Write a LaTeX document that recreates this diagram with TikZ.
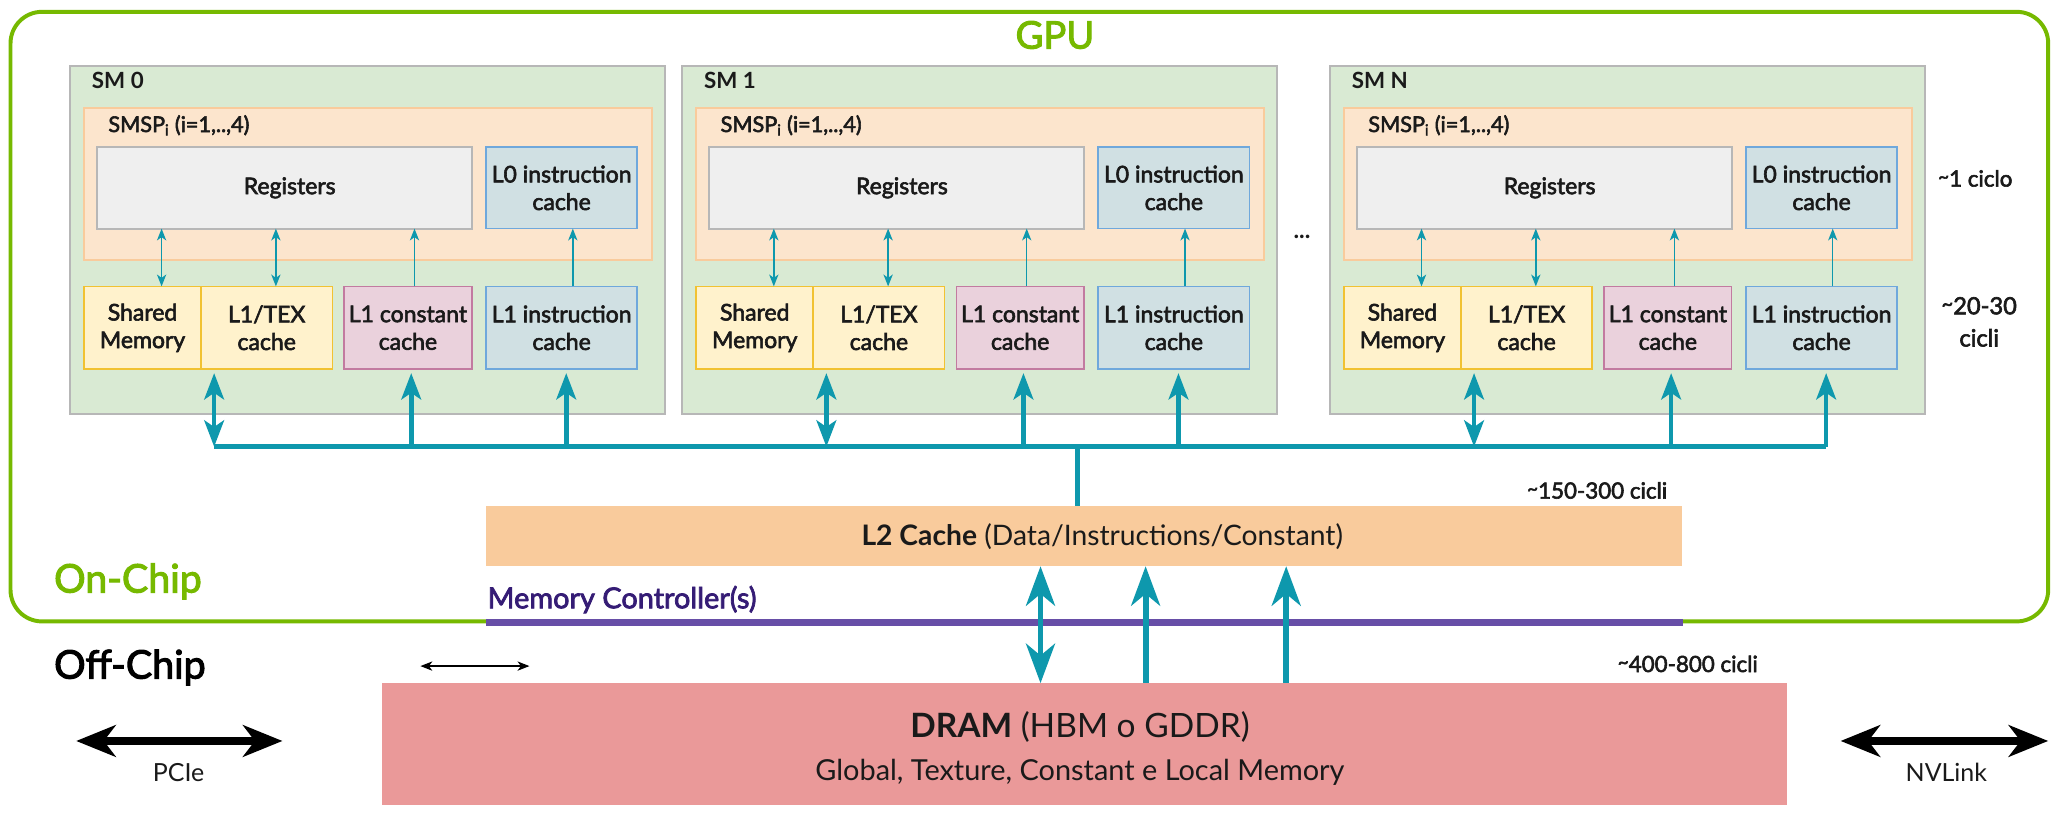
\documentclass[tikz,border=0pt]{standalone}
\usepackage{fontspec}
\setmainfont{Lato}
\newfontfamily\semib{Lato}[FakeBold=2.6]
\usetikzlibrary{arrows.meta}
\definecolor{gpugreen}{HTML}{76B900}
\definecolor{teal2}{HTML}{0E98AD}
\definecolor{mcpurple}{HTML}{674EA7}
\definecolor{mctext}{HTML}{351C75}
\definecolor{smfill}{HTML}{D9EAD3}
\definecolor{smdraw}{HTML}{B7B7B7}
\definecolor{smspfill}{HTML}{FCE5CD}
\definecolor{smspdraw}{HTML}{F9CB9C}
\definecolor{regfill}{HTML}{EFEFEF}
\definecolor{insfill}{HTML}{D0E0E3}
\definecolor{insdraw}{HTML}{6FA8DC}
\definecolor{shmfill}{HTML}{FFF2CC}
\definecolor{shmdraw}{HTML}{F1C232}
\definecolor{cstfill}{HTML}{EAD1DC}
\definecolor{cstdraw}{HTML}{C27BA0}
\definecolor{ltwofill}{HTML}{F9CB9C}
\definecolor{dramfill}{HTML}{EA9999}
\definecolor{txt}{HTML}{1A1A1A}
\newcommand\tld{\raisebox{.3ex}{\scalebox{.85}{\textasciitilde}}}
\newcommand\fsz[2]{\fontsize{#1}{#2}\selectfont}
\tikzset{
  tipS/.tip={Stealth[length=9pt,width=7pt,inset=2.5pt]},
  tipB/.tip={Stealth[length=20pt,width=15pt,inset=5pt]},
  tipL/.tip={Stealth[length=30pt,width=22pt,inset=9pt]},
  tipK/.tip={Stealth[length=30pt,width=24pt,inset=9pt]},
  box/.style={draw, line width=1.3pt, inner sep=0pt, outer sep=0pt, align=center, anchor=north west, text=txt, font=\semib\fsz{17.5}{21}},
  smbox/.style={box, fill=smfill, draw=smdraw, line width=1.6pt},
  smspbox/.style={box, fill=smspfill, draw=smspdraw, line width=1.6pt},
  regbox/.style={box, fill=regfill, draw=smdraw, line width=1.6pt},
  insbox/.style={box, fill=insfill, draw=insdraw},
  shmbox/.style={box, fill=shmfill, draw=shmdraw},
  cstbox/.style={box, fill=cstfill, draw=cstdraw},
  plainbox/.style={inner sep=0pt, outer sep=0pt, anchor=north west},
  lbl/.style={inner sep=0pt, outer sep=0pt, text=txt, font=\semib\fsz{16.5}{20}},
  tarr/.style={color=teal2, line width=1.1pt, -tipS},
  tarr2/.style={color=teal2, line width=1.1pt, tipS-tipS},
  barr/.style={color=teal2, line width=3.5pt, -tipB},
  barr2/.style={color=teal2, line width=3.5pt, tipB-tipB},
  bus/.style={color=teal2, line width=4pt},
  larr/.style={color=teal2, line width=4.5pt, -tipL},
  larr2/.style={color=teal2, line width=4.5pt, tipL-tipL},
  karr2/.style={color=black, line width=5.5pt, tipK-tipK},
  sarr2/.style={color=black, line width=1.2pt, tipS-tipS},
  mcline/.style={color=mcpurple, line width=5pt},
}
\begin{document}
\begin{tikzpicture}[x=1pt,y=-1pt]
\useasboundingbox (0,0) rectangle (1568,620);
\fill[white] (0,0) rectangle (1568,620);
% GPU container
\node[plainbox, draw=gpugreen, line width=3pt, rounded corners=24pt, minimum width=1551pt, minimum height=464pt] (gpu) at (8,9) {};
\node[anchor=base, text=gpugreen, inner sep=0pt, font=\semib\fsz{29}{32}] (gput) at (803,37) {GPU};
% bus end points
\coordinate (busL) at (163,340);
\coordinate (busR) at (1390,340);
% SMs
\foreach \x/\n/\lab in {53/0/SM 0,519/1/SM 1,1012/2/SM N}{
  \node[smbox, minimum width=453pt, minimum height=265pt] (sm\n) at (\x,50) {};
  \node[lbl, anchor=base west, font=\bfseries\fsz{17}{20}] (sm\n-t) at (\x+17,67.5) {\lab};
  \node[smspbox, minimum width=432pt, minimum height=116pt] (sm\n-smsp) at (\x+11,82) {};
  \node[lbl, anchor=base west] (sm\n-st) at (\x+29.5,100.5) {SMSP\textsubscript{i} (i=1,..,4)};
  \node[regbox, minimum width=285pt, minimum height=62pt] (sm\n-reg) at (\x+21,112) {\hspace{8pt}Registers};
  \node[insbox, minimum width=115pt, minimum height=62pt] (sm\n-l0) at (\x+317,112) {L0 instruction\\cache};
  \node[shmbox, minimum width=89pt, minimum height=63pt] (sm\n-shm) at (\x+11,218) {Shared\\Memory};
  \node[shmbox, minimum width=100pt, minimum height=63pt] (sm\n-tex) at (\x+100,218) {L1/TEX\\cache};
  \node[cstbox, minimum width=97pt, minimum height=63pt] (sm\n-cst) at (\x+209,218) {L1 constant\\cache};
  \node[insbox, minimum width=115pt, minimum height=63pt] (sm\n-l1i) at (\x+317,218) {L1 instruction\\cache};
  \draw[tarr2] ([xshift=14.5pt]sm\n-shm.north) -- ([xshift=14.5pt]sm\n-shm.north |- sm\n-reg.south);
  \draw[tarr2] ([xshift=7pt]sm\n-tex.north) -- ([xshift=7pt]sm\n-tex.north |- sm\n-reg.south);
  \draw[tarr] ([xshift=5pt]sm\n-cst.north) -- ([xshift=5pt]sm\n-cst.north |- sm\n-reg.south);
  \draw[tarr] ([xshift=8.5pt]sm\n-l1i.north) -- ([xshift=8.5pt]sm\n-l1i.north |- sm\n-l0.south);
  \draw[barr2] ([xshift=-40pt]sm\n-tex.south |- busL) -- ([xshift=-40pt,yshift=-3pt]sm\n-tex.south);
  \draw[barr] ([xshift=2.5pt]sm\n-cst.south |- busL) -- ([xshift=2.5pt,yshift=-3pt]sm\n-cst.south);
  \draw[barr] ([xshift=3.5pt]sm\n-l1i.south |- busL) -- ([xshift=3.5pt,yshift=-3pt]sm\n-l1i.south);
}
\node[anchor=base, inner sep=0pt, text=txt, font=\bfseries\fsz{18}{20}] (dots) at (991,181.5) {...};
% bus
\draw[bus] (busL) -- (busR);
% L2
\node[plainbox, fill=ltwofill, minimum width=910pt, minimum height=46pt] (l2) at (370,385) {};
\node[anchor=base, inner sep=0pt, text=txt, font=\fsz{21.5}{25}] (l2t) at (839,415.5) {\textbf{L2 Cache} (Data/Instructions/Constant)};
\draw[bus] ([xshift=-5pt]l2.north) -- ([xshift=-5pt]l2.north |- busL);
% memory controller
\coordinate (mcL) at (370,474);
\coordinate (mcR) at (1281,474);
\draw[mcline] (mcL) -- (mcR);
\node[anchor=base west, inner sep=0pt, text=mctext, font=\semib\fsz{22}{24}] (mct) at (371,463) {Memory Controller(s)};
% DRAM
\node[plainbox, fill=dramfill, minimum width=1069pt, minimum height=93pt] (dram) at (291,520) {};
\node[anchor=base, inner sep=0pt, text=txt, font=\fsz{25.5}{30}] (dramt) at (822,561) {\textbf{DRAM} (HBM o GDDR)};
\node[anchor=base, inner sep=0pt, text=txt, font=\fsz{22}{25}] (dramd) at (822,594) {Global, Texture, Constant e Local Memory};
% L2 - DRAM arrows
\draw[larr2] ([xshift=-33pt]l2.south |- dram.north) -- ([xshift=-33pt]l2.south);
\draw[larr] ([xshift=47pt]l2.south |- dram.north) -- ([xshift=47pt]l2.south);
\draw[larr] ([xshift=154pt]l2.south |- dram.north) -- ([xshift=154pt]l2.south);
% latency labels
\node[lbl, anchor=base, font=\semib\fsz{17}{20}] (lat1) at (1503.5,142) {\tld1 ciclo};
\node[lbl, align=center, font=\semib\fsz{18}{24.5}] (lat2) at (1506.5,245) {\tld20-30\\cicli};
\node[lbl, anchor=base east, font=\semib\fsz{17}{18}] (lat3) at (1269,379.5) {\tld150-300 cicli};
\node[lbl, anchor=base east, font=\semib\fsz{17}{18}] (lat4) at (1338,511.5) {\tld400-800 cicli};
% chip labels
\node[anchor=base west, inner sep=0pt, text=gpugreen, font=\semib\fsz{30}{33}] (onchip) at (41,451) {On-Chip};
\node[anchor=base west, inner sep=0pt, text=black, font=\semib\fsz{30}{33}] (offchip) at (41,516.5) {Off-Chip};
% small arrow
\coordinate (sa1) at (320,507);
\coordinate (sa2) at (403,507);
\draw[sarr2] (sa1) -- (sa2);
% PCIe
\coordinate (pL) at (58,564);
\coordinate (pR) at (215,564);
\draw[karr2] (pL) -- (pR);
\node[anchor=base, inner sep=0pt, text=txt, font=\fsz{19}{22}] (pcie) at (136,595) {PCIe};
% NVLink
\coordinate (nL) at (1401,564);
\coordinate (nR) at (1559,564);
\draw[karr2] (nL) -- (nR);
\node[anchor=base, inner sep=0pt, text=txt, font=\fsz{19}{22}] (nvl) at (1481.5,595) {NVLink};
\end{tikzpicture}
\end{document}
